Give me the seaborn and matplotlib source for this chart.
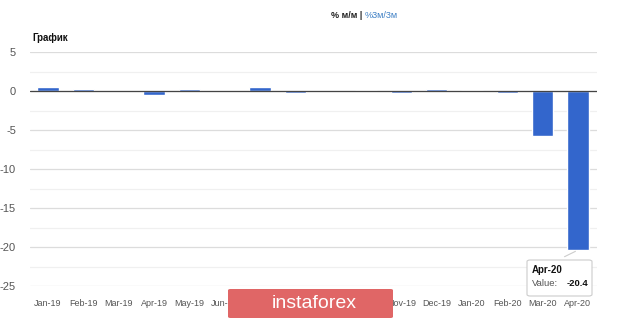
import matplotlib
matplotlib.use("Agg")
import matplotlib.pyplot as plt
import seaborn as sns
import pandas as pd
from matplotlib.patches import FancyBboxPatch, Rectangle
from matplotlib.ticker import MultipleLocator

months = ["Jan-19", "Feb-19", "Mar-19", "Apr-19", "May-19", "Jun-19", "Jul-19", "Aug-19",
          "Sep-19", "Oct-19", "Nov-19", "Dec-19", "Jan-20", "Feb-20", "Mar-20", "Apr-20"]
values = [0.5, 0.25, 0.0, -0.45, 0.25, 0.0, 0.45, -0.2,
          -0.05, 0.1, -0.3, 0.3, 0.1, -0.2, -5.8, -20.4]
y_ticks = [5, 0, -5, -10, -15, -20, -25]

sns.set_theme(style="white")
plt.rcParams['font.family'] = ['Arial', 'Liberation Sans', 'DejaVu Sans']
plt.rcParams['axes.unicode_minus'] = False

df = pd.DataFrame({"month": months, "value": values})

fig = plt.figure(figsize=(6.2, 3.18), dpi=100)
ax = fig.add_axes([30/620, 1-286/318, (597-30)/620, (286-52)/318])

sns.barplot(data=df, x="month", y="value", color="#3366cc", saturation=1,
            width=0.6, ax=ax, zorder=3)

ax.set_ylim(-25, 5)
ax.set_xlim(-0.51, 15.54)
ax.set_yticks(y_ticks)
ax.yaxis.set_minor_locator(MultipleLocator(2.5))
ax.grid(axis="y", which="major", color="#dcdcdc", linewidth=0.9, zorder=0)
ax.grid(axis="y", which="minor", color="#f0f0f0", linewidth=0.9, zorder=0)
ax.axhline(0, color="#444444", linewidth=0.9, zorder=4)
for s in ax.spines.values():
    s.set_visible(False)
ax.set_xlabel("")
ax.set_ylabel("")
ax.tick_params(axis="y", which="both", length=0, labelsize=8, labelcolor="#555555", pad=10)
ax.tick_params(axis="x", length=0, labelsize=6.5, labelcolor="#555555", pad=9)

# header texts
fig.text(365/620, 1-16/318, "% м/м | ", ha="right", va="center", fontsize=6.5,
         color="#222222", fontweight="bold")
fig.text(365/620, 1-16/318, "%3м/3м", ha="left", va="center", fontsize=6.5,
         color="#3d7fc4")
fig.text(32/620, 1-38/318, "График", ha="left", va="center", fontsize=7,
         color="#111111", fontweight="bold")

# tooltip
ax.annotate("", xy=(15.0, -20.4), xytext=(14.55, -21.4),
            arrowprops=dict(arrowstyle="-", color="#cccccc", lw=0.8), zorder=6)
tip = FancyBboxPatch((527/620, 1-296/318), 65/620, 36/318,
                     boxstyle="round,pad=0,rounding_size=0.005",
                     transform=fig.transFigure, facecolor="white",
                     edgecolor="#cccccc", linewidth=0.8, zorder=10)
fig.patches.append(tip)
fig.text(532/620, 1-270/318, "Apr-20", fontsize=7, fontweight="bold",
         color="#111111", va="center", ha="left", zorder=11)
fig.text(532/620, 1-283/318, "Value:", fontsize=6.8, color="#555555",
         va="center", ha="left", zorder=11)
fig.text(588/620, 1-283/318, "-20.4", fontsize=6.8, fontweight="bold",
         color="#111111", va="center", ha="right", zorder=11)

# watermark
wm = FancyBboxPatch((228/620, 0), (393-228)/620, (318-289)/318, transform=fig.transFigure,
                    boxstyle="round,pad=0,rounding_size=0.004",
                    facecolor="#e06666", edgecolor="none", zorder=12)
fig.patches.append(wm)
fig.text(272/620, 1-303/318, "instaforex", fontsize=14, color="white",
         ha="left", va="center", zorder=13)

fig.savefig("out.png", dpi=100)
